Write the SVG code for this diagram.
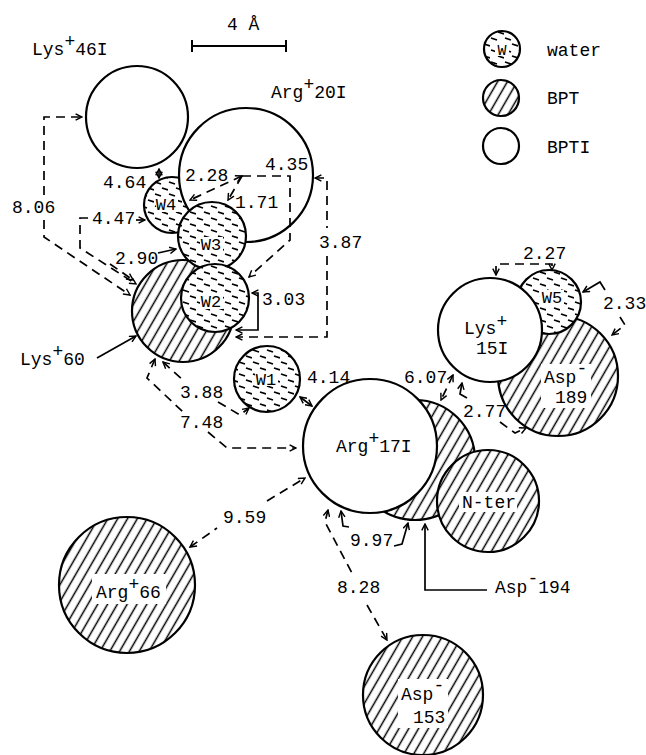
<svg xmlns="http://www.w3.org/2000/svg" width="646" height="755" viewBox="0 0 646 755">
<defs>
<pattern id="hatch" width="8.5" height="8.5" patternUnits="userSpaceOnUse" patternTransform="rotate(30)">
<rect width="8.5" height="8.5" fill="#fff"/>
<line x1="4.25" y1="-1" x2="4.25" y2="9.5" stroke="#000" stroke-width="1.5"/>
</pattern>
<pattern id="water" width="14" height="12" patternUnits="userSpaceOnUse">
<rect width="14" height="12" fill="#fff"/>
<path d="M1,2 L7,4 M8,8 L14,10" stroke="#000" stroke-width="1.8"/>
</pattern>
<marker id="ah" viewBox="0 0 10 10" refX="9" refY="5" markerWidth="8" markerHeight="8" markerUnits="userSpaceOnUse" orient="auto-start-reverse">
<path d="M1,1 L9,5 L1,9" fill="none" stroke="#000" stroke-width="1.8"/>
</marker>
</defs>
<style>
.c{stroke:#000;stroke-width:2.2}
.o{fill:#fff}
.h{fill:url(#hatch)}
.w{fill:url(#water)}
text{font-family:"Liberation Mono","DejaVu Sans Mono",monospace;font-size:18px;fill:#000}
.wl{font-size:17px;text-anchor:middle}
.bg{fill:#fff}
.d{fill:none;stroke:#000;stroke-width:1.7;stroke-dasharray:9 6}
.s{fill:none;stroke:#000;stroke-width:1.7}
.a{marker-end:url(#ah)}
.b{marker-start:url(#ah);marker-end:url(#ah)}
.m{marker-start:url(#ah)}
</style>
<rect width="646" height="755" fill="#fff"/>

<g id="legend">
<circle class="c w" cx="502" cy="49" r="18"/>
<rect class="bg" x="495" y="41" width="14" height="15"/>
<text x="502" y="55" style="font-size:15px;text-anchor:middle">W</text>
<text x="547" y="56">water</text>
<circle class="c h" cx="501" cy="98" r="18"/>
<text x="547" y="104">BPT</text>
<circle class="c o" cx="501" cy="146" r="18"/>
<text x="547" y="153">BPTI</text>
</g>

<g id="scale">
<path class="s" d="M192,46 L286,46 M192,40 V52 M286,40 V52" style="stroke-width:2"/>
<text x="227" y="30">4 Å</text>
</g>

<g id="lys46I">
<circle class="c o" cx="137" cy="117" r="51"/>
<text x="32" y="55">Lys<tspan dy="-8">+</tspan><tspan dy="8">46I</tspan></text>
</g>
<g id="w4">
<circle class="c w" cx="172" cy="205" r="28"/>
</g>
<g id="arg20I">
<circle class="c o" cx="246" cy="175" r="67"/>
<text x="271" y="98">Arg<tspan dy="-8">+</tspan><tspan dy="8">20I</tspan></text>
</g>
<g id="w4label">
<rect class="bg" x="156" y="197" width="22" height="15"/>
<text class="wl" x="166" y="210">W4</text>
</g>
<g id="lys60">
<circle class="c h" cx="183" cy="311" r="51"/>
<text x="20" y="365">Lys<tspan dy="-8">+</tspan><tspan dy="8">60</tspan></text>
</g>
<g id="w3">
<circle class="c w" cx="212" cy="236" r="34"/>
<rect class="bg" x="200" y="237" width="23" height="15"/>
<text class="wl" x="211" y="250">W3</text>
</g>
<g id="w2">
<circle class="c w" cx="215" cy="298" r="34"/>
<rect class="bg" x="200" y="294" width="23" height="15"/>
<text class="wl" x="211" y="307">W2</text>
</g>
<g id="w1">
<circle class="c w" cx="267" cy="379" r="33"/>
<rect class="bg" x="255" y="371" width="23" height="15"/>
<text class="wl" x="266" y="385">W1</text>
</g>
<g id="asp194">
<circle class="c h" cx="415" cy="460" r="60"/>
<text x="495" y="593">Asp<tspan dy="-9">-</tspan><tspan dy="9">194</tspan></text>
</g>
<g id="arg17I">
<circle class="c o" cx="370" cy="446" r="67"/>
<text x="336" y="452">Arg<tspan dy="-8">+</tspan><tspan dy="8">17I</tspan></text>
</g>
<g id="nter">
<circle class="c h" cx="488" cy="501" r="51"/>
<rect class="bg" x="459" y="492" width="58" height="20"/>
<text x="462" y="508">N-ter</text>
</g>
<g id="asp189">
<circle class="c h" cx="558" cy="376" r="60"/>
<rect class="bg" x="541" y="364" width="50" height="44"/>
<text x="544" y="383">Asp<tspan dy="-9">-</tspan></text>
<text x="555" y="403">189</text>
</g>
<g id="w5">
<circle class="c w" cx="549" cy="302" r="32"/>
<rect class="bg" x="540" y="290" width="24" height="16"/>
<text class="wl" x="552" y="303">W5</text>
</g>
<g id="lys15I">
<circle class="c o" cx="490" cy="330" r="52"/>
<text x="464" y="334">Lys<tspan dy="-7">+</tspan></text>
<text x="476" y="354">15I</text>
</g>
<g id="arg66">
<circle class="c h" cx="127" cy="585" r="68"/>
<rect class="bg" x="92" y="574" width="74" height="30"/>
<text x="96" y="598">Arg<tspan dy="-8">+</tspan><tspan dy="8">66</tspan></text>
</g>
<g id="asp153">
<circle class="c h" cx="423" cy="695" r="60"/>
<rect class="bg" x="398" y="679" width="50" height="49"/>
<text x="401" y="700">Asp<tspan dy="-9">-</tspan></text>
<text x="413" y="723">153</text>
</g>

<g id="connectors">
<path class="d a" d="M44,195 L44,117 L82,117"/>
<path class="d a" d="M44,220 L44,237 L130,295"/>
<text x="12" y="213">8.06</text>
<path class="d a" d="M88,218 L80,218 L80,248 L136,284"/>
<path class="s a" d="M136,220 L145,220"/>
<text x="92" y="224">4.47</text>
<path class="d a" d="M110,264 L133,280"/>
<path class="s a" d="M158,253 L176,249"/>
<text x="115" y="264">2.90</text>
<path class="s b" d="M159,178 L159,169"/>
<text x="103" y="188">4.64</text>
<path class="d b" d="M242,176 L190,200"/>
<text x="185" y="181">2.28</text>
<path class="d a" d="M242,176 L228,200"/>
<text x="235" y="208">1.71</text>
<path class="d a" d="M242,176 L290,176 L290,240 L249,277"/>
<text x="265" y="170">4.35</text>
<path class="d m" d="M315,178 L327,178 L327,228"/>
<path class="d a" d="M327,256 L327,337 L236,337"/>
<text x="319" y="248">3.87</text>
<path class="s b" d="M252,293 L258,293 L258,330 L236,330"/>
<text x="262" y="305">3.03</text>
<path class="s a" d="M97,358 L136,336"/>
<path class="d m" d="M155,359 L147,378 L183,412"/>
<path class="d a" d="M208,432 L227,448 L296,448"/>
<text x="180" y="428">7.48</text>
<path class="d m" d="M163,362 L183,380"/>
<path class="d a" d="M218,402 L240,415 L249,408"/>
<text x="180" y="398">3.88</text>
<path class="s b" d="M300,397 L312,406"/>
<text x="307" y="383">4.14</text>
<path class="d b" d="M453,375 L441,400"/>
<text x="404" y="383">6.07</text>
<path class="s m" d="M462,383 L460,394 L467,398"/>
<path class="d a" d="M500,422 L515,433 L526,428"/>
<text x="463" y="417">2.77</text>
<path class="d b" d="M496,275 L496,264 L552,264 L552,270"/>
<text x="523" y="259">2.27</text>
<path class="s m" d="M583,292 L600,282 L605,290"/>
<path class="d a" d="M620,317 L625,325 L612,335"/>
<text x="603" y="309">2.33</text>
<path class="d m" d="M190,547 L217,528"/>
<path class="d a" d="M267,501 L305,478"/>
<text x="223" y="523">9.59</text>
<path class="s m" d="M341,511 L343,526 L349,527"/>
<path class="s a" d="M394,546 L402,544 L408,523"/>
<text x="350" y="546">9.97</text>
<path class="d m" d="M328,510 L325,522 L352,573"/>
<path class="d a" d="M367,605 L387,640"/>
<text x="337" y="593">8.28</text>
<path class="s a" d="M487,590 L425,590 L425,524"/>
</g>
</svg>
